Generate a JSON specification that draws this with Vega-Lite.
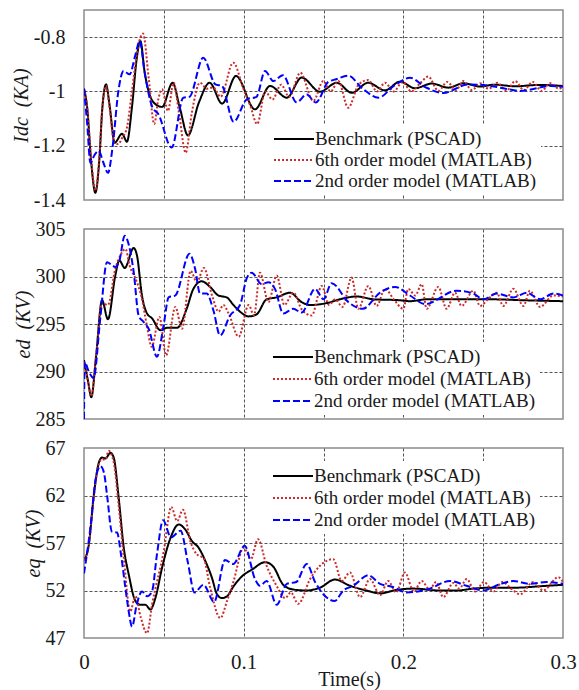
{
  "$schema": "https://vega.github.io/schema/vega-lite/v6.json",
  "background": "white",
  "padding": {"left": 10, "top": 9, "right": 16, "bottom": 2},
  "autosize": {"type": "pad"},
  "bounds": "flush",
  "spacing": 29,
  "config": {
    "font": "Liberation Serif",
    "view": {"stroke": "#8c8c8c", "strokeWidth": 1.5},
    "line": {"strokeWidth": 2, "strokeCap": "butt"},
    "axis": {"domain": false, "ticks": false, "labelFont": "Liberation Serif", "labelFontSize": 20, "labelColor": "#1a1a1a", "gridColor": "#555555", "gridDash": [3, 2], "gridWidth": 1, "titleFont": "Liberation Serif", "titleFontWeight": "normal", "titleColor": "#1a1a1a"},
    "legend": {"orient": "none", "title": null, "labelFont": "Liberation Serif", "labelFontSize": 19, "labelColor": "#1a1a1a", "symbolType": "M-1,0H3", "symbolSize": 400, "symbolStrokeWidth": 2, "symbolOffset": 19, "labelOffset": 20, "padding": 4, "fillColor": "white", "labelLimit": 400}
  },
  "resolve": {"scale": {"color": "independent", "strokeDash": "independent"}, "legend": {"color": "independent", "strokeDash": "independent"}},
  "datasets": {
    "idc": [
      {"t":0,"v":-0.99,"s":"Benchmark (PSCAD)"},{"t":0.002,"v":-1.06,"s":"Benchmark (PSCAD)"},{"t":0.0045,"v":-1.26,"s":"Benchmark (PSCAD)"},{"t":0.0071,"v":-1.373,"s":"Benchmark (PSCAD)"},{"t":0.0095,"v":-1.26,"s":"Benchmark (PSCAD)"},{"t":0.0115,"v":-1.06,"s":"Benchmark (PSCAD)"},{"t":0.0138,"v":-0.974,"s":"Benchmark (PSCAD)"},{"t":0.016,"v":-1.05,"s":"Benchmark (PSCAD)"},{"t":0.0192,"v":-1.189,"s":"Benchmark (PSCAD)"},{"t":0.0238,"v":-1.156,"s":"Benchmark (PSCAD)"},{"t":0.0269,"v":-1.185,"s":"Benchmark (PSCAD)"},{"t":0.03,"v":-1.06,"s":"Benchmark (PSCAD)"},{"t":0.033,"v":-0.88,"s":"Benchmark (PSCAD)"},{"t":0.0353,"v":-0.814,"s":"Benchmark (PSCAD)"},{"t":0.038,"v":-0.93,"s":"Benchmark (PSCAD)"},{"t":0.0405,"v":-1.0,"s":"Benchmark (PSCAD)"},{"t":0.0435,"v":-1.04,"s":"Benchmark (PSCAD)"},{"t":0.0489,"v":-1.057,"s":"Benchmark (PSCAD)"},{"t":0.0555,"v":-0.968,"s":"Benchmark (PSCAD)"},{"t":0.06,"v":-1.06,"s":"Benchmark (PSCAD)"},{"t":0.0651,"v":-1.162,"s":"Benchmark (PSCAD)"},{"t":0.072,"v":-1.04,"s":"Benchmark (PSCAD)"},{"t":0.0787,"v":-0.968,"s":"Benchmark (PSCAD)"},{"t":0.0865,"v":-1.045,"s":"Benchmark (PSCAD)"},{"t":0.0952,"v":-0.943,"s":"Benchmark (PSCAD)"},{"t":0.1071,"v":-1.066,"s":"Benchmark (PSCAD)"},{"t":0.1165,"v":-0.98,"s":"Benchmark (PSCAD)"},{"t":0.127,"v":-1.023,"s":"Benchmark (PSCAD)"},{"t":0.1363,"v":-0.949,"s":"Benchmark (PSCAD)"},{"t":0.1478,"v":-1.001,"s":"Benchmark (PSCAD)"},{"t":0.1583,"v":-0.968,"s":"Benchmark (PSCAD)"},{"t":0.1677,"v":-1.005,"s":"Benchmark (PSCAD)"},{"t":0.178,"v":-0.968,"s":"Benchmark (PSCAD)"},{"t":0.1885,"v":-0.996,"s":"Benchmark (PSCAD)"},{"t":0.1979,"v":-0.964,"s":"Benchmark (PSCAD)"},{"t":0.2073,"v":-0.988,"s":"Benchmark (PSCAD)"},{"t":0.2178,"v":-0.971,"s":"Benchmark (PSCAD)"},{"t":0.2282,"v":-0.986,"s":"Benchmark (PSCAD)"},{"t":0.2376,"v":-0.97,"s":"Benchmark (PSCAD)"},{"t":0.248,"v":-0.982,"s":"Benchmark (PSCAD)"},{"t":0.257,"v":-0.975,"s":"Benchmark (PSCAD)"},{"t":0.27,"v":-0.981,"s":"Benchmark (PSCAD)"},{"t":0.285,"v":-0.976,"s":"Benchmark (PSCAD)"},{"t":0.3,"v":-0.98,"s":"Benchmark (PSCAD)"},
      {"t":0,"v":-0.99,"s":"6th order model (MATLAB)"},{"t":0.002,"v":-1.06,"s":"6th order model (MATLAB)"},{"t":0.0045,"v":-1.25,"s":"6th order model (MATLAB)"},{"t":0.0072,"v":-1.365,"s":"6th order model (MATLAB)"},{"t":0.0095,"v":-1.25,"s":"6th order model (MATLAB)"},{"t":0.0115,"v":-1.06,"s":"6th order model (MATLAB)"},{"t":0.0138,"v":-0.98,"s":"6th order model (MATLAB)"},{"t":0.016,"v":-1.06,"s":"6th order model (MATLAB)"},{"t":0.019,"v":-1.19,"s":"6th order model (MATLAB)"},{"t":0.0214,"v":-1.194,"s":"6th order model (MATLAB)"},{"t":0.024,"v":-1.17,"s":"6th order model (MATLAB)"},{"t":0.027,"v":-1.13,"s":"6th order model (MATLAB)"},{"t":0.03,"v":-1.0,"s":"6th order model (MATLAB)"},{"t":0.034,"v":-0.83,"s":"6th order model (MATLAB)"},{"t":0.037,"v":-0.787,"s":"6th order model (MATLAB)"},{"t":0.0405,"v":-0.95,"s":"6th order model (MATLAB)"},{"t":0.044,"v":-1.12,"s":"6th order model (MATLAB)"},{"t":0.0465,"v":-1.03,"s":"6th order model (MATLAB)"},{"t":0.0489,"v":-0.992,"s":"6th order model (MATLAB)"},{"t":0.0526,"v":-1.072,"s":"6th order model (MATLAB)"},{"t":0.0561,"v":-0.968,"s":"6th order model (MATLAB)"},{"t":0.0595,"v":-1.08,"s":"6th order model (MATLAB)"},{"t":0.0637,"v":-1.226,"s":"6th order model (MATLAB)"},{"t":0.0675,"v":-1.08,"s":"6th order model (MATLAB)"},{"t":0.0726,"v":-0.968,"s":"6th order model (MATLAB)"},{"t":0.077,"v":-0.99,"s":"6th order model (MATLAB)"},{"t":0.081,"v":-0.985,"s":"6th order model (MATLAB)"},{"t":0.0855,"v":-1.02,"s":"6th order model (MATLAB)"},{"t":0.0935,"v":-0.894,"s":"6th order model (MATLAB)"},{"t":0.0998,"v":-0.99,"s":"6th order model (MATLAB)"},{"t":0.104,"v":-1.05,"s":"6th order model (MATLAB)"},{"t":0.1085,"v":-1.12,"s":"6th order model (MATLAB)"},{"t":0.1135,"v":-1.0,"s":"6th order model (MATLAB)"},{"t":0.118,"v":-1.03,"s":"6th order model (MATLAB)"},{"t":0.1235,"v":-0.975,"s":"6th order model (MATLAB)"},{"t":0.1285,"v":-1.02,"s":"6th order model (MATLAB)"},{"t":0.1355,"v":-0.931,"s":"6th order model (MATLAB)"},{"t":0.1436,"v":-1.035,"s":"6th order model (MATLAB)"},{"t":0.1499,"v":-0.962,"s":"6th order model (MATLAB)"},{"t":0.1545,"v":-1.0,"s":"6th order model (MATLAB)"},{"t":0.1593,"v":-0.962,"s":"6th order model (MATLAB)"},{"t":0.1655,"v":-1.06,"s":"6th order model (MATLAB)"},{"t":0.172,"v":-0.975,"s":"6th order model (MATLAB)"},{"t":0.178,"v":-0.958,"s":"6th order model (MATLAB)"},{"t":0.1835,"v":-1.0,"s":"6th order model (MATLAB)"},{"t":0.1885,"v":-0.968,"s":"6th order model (MATLAB)"},{"t":0.194,"v":-1.0,"s":"6th order model (MATLAB)"},{"t":0.1995,"v":-0.965,"s":"6th order model (MATLAB)"},{"t":0.205,"v":-1.0,"s":"6th order model (MATLAB)"},{"t":0.2105,"v":-0.97,"s":"6th order model (MATLAB)"},{"t":0.2156,"v":-0.945,"s":"6th order model (MATLAB)"},{"t":0.2219,"v":-0.998,"s":"6th order model (MATLAB)"},{"t":0.2275,"v":-0.965,"s":"6th order model (MATLAB)"},{"t":0.233,"v":-0.995,"s":"6th order model (MATLAB)"},{"t":0.2375,"v":-0.962,"s":"6th order model (MATLAB)"},{"t":0.243,"v":-0.995,"s":"6th order model (MATLAB)"},{"t":0.248,"v":-0.97,"s":"6th order model (MATLAB)"},{"t":0.2535,"v":-0.99,"s":"6th order model (MATLAB)"},{"t":0.259,"v":-0.968,"s":"6th order model (MATLAB)"},{"t":0.2645,"v":-0.998,"s":"6th order model (MATLAB)"},{"t":0.27,"v":-0.962,"s":"6th order model (MATLAB)"},{"t":0.2755,"v":-0.995,"s":"6th order model (MATLAB)"},{"t":0.281,"v":-0.965,"s":"6th order model (MATLAB)"},{"t":0.2865,"v":-0.998,"s":"6th order model (MATLAB)"},{"t":0.292,"v":-0.97,"s":"6th order model (MATLAB)"},{"t":0.2975,"v":-0.99,"s":"6th order model (MATLAB)"},{"t":0.3,"v":-0.978,"s":"6th order model (MATLAB)"},
      {"t":0,"v":-0.99,"s":"2nd order model (MATLAB)"},{"t":0.002,"v":-1.12,"s":"2nd order model (MATLAB)"},{"t":0.004,"v":-1.263,"s":"2nd order model (MATLAB)"},{"t":0.0065,"v":-1.235,"s":"2nd order model (MATLAB)"},{"t":0.0092,"v":-1.219,"s":"2nd order model (MATLAB)"},{"t":0.012,"v":-1.26,"s":"2nd order model (MATLAB)"},{"t":0.015,"v":-1.3,"s":"2nd order model (MATLAB)"},{"t":0.018,"v":-1.2,"s":"2nd order model (MATLAB)"},{"t":0.0215,"v":-1.0,"s":"2nd order model (MATLAB)"},{"t":0.0248,"v":-0.925,"s":"2nd order model (MATLAB)"},{"t":0.0286,"v":-0.937,"s":"2nd order model (MATLAB)"},{"t":0.032,"v":-0.87,"s":"2nd order model (MATLAB)"},{"t":0.0349,"v":-0.814,"s":"2nd order model (MATLAB)"},{"t":0.038,"v":-0.93,"s":"2nd order model (MATLAB)"},{"t":0.0426,"v":-1.055,"s":"2nd order model (MATLAB)"},{"t":0.0466,"v":-1.084,"s":"2nd order model (MATLAB)"},{"t":0.0549,"v":-1.207,"s":"2nd order model (MATLAB)"},{"t":0.0622,"v":-1.023,"s":"2nd order model (MATLAB)"},{"t":0.066,"v":-1.02,"s":"2nd order model (MATLAB)"},{"t":0.0747,"v":-0.876,"s":"2nd order model (MATLAB)"},{"t":0.0823,"v":-0.974,"s":"2nd order model (MATLAB)"},{"t":0.0864,"v":-0.98,"s":"2nd order model (MATLAB)"},{"t":0.0937,"v":-1.112,"s":"2nd order model (MATLAB)"},{"t":0.102,"v":-1.029,"s":"2nd order model (MATLAB)"},{"t":0.108,"v":-1.02,"s":"2nd order model (MATLAB)"},{"t":0.1134,"v":-0.925,"s":"2nd order model (MATLAB)"},{"t":0.1186,"v":-0.962,"s":"2nd order model (MATLAB)"},{"t":0.1245,"v":-0.94,"s":"2nd order model (MATLAB)"},{"t":0.1332,"v":-1.04,"s":"2nd order model (MATLAB)"},{"t":0.1395,"v":-1.011,"s":"2nd order model (MATLAB)"},{"t":0.1452,"v":-1.041,"s":"2nd order model (MATLAB)"},{"t":0.153,"v":-0.965,"s":"2nd order model (MATLAB)"},{"t":0.158,"v":-0.955,"s":"2nd order model (MATLAB)"},{"t":0.1655,"v":-0.942,"s":"2nd order model (MATLAB)"},{"t":0.1745,"v":-0.99,"s":"2nd order model (MATLAB)"},{"t":0.1845,"v":-1.023,"s":"2nd order model (MATLAB)"},{"t":0.194,"v":-0.98,"s":"2nd order model (MATLAB)"},{"t":0.2042,"v":-0.95,"s":"2nd order model (MATLAB)"},{"t":0.214,"v":-0.985,"s":"2nd order model (MATLAB)"},{"t":0.225,"v":-1.006,"s":"2nd order model (MATLAB)"},{"t":0.2405,"v":-0.974,"s":"2nd order model (MATLAB)"},{"t":0.255,"v":-0.98,"s":"2nd order model (MATLAB)"},{"t":0.264,"v":-0.99,"s":"2nd order model (MATLAB)"},{"t":0.273,"v":-0.998,"s":"2nd order model (MATLAB)"},{"t":0.2925,"v":-0.98,"s":"2nd order model (MATLAB)"},{"t":0.3,"v":-0.983,"s":"2nd order model (MATLAB)"}
    ],
    "ed": [
      {"t":0,"v":291.2,"s":"Benchmark (PSCAD)"},{"t":0.0025,"v":289.0,"s":"Benchmark (PSCAD)"},{"t":0.0046,"v":287.3,"s":"Benchmark (PSCAD)"},{"t":0.0075,"v":291.5,"s":"Benchmark (PSCAD)"},{"t":0.0113,"v":297.5,"s":"Benchmark (PSCAD)"},{"t":0.015,"v":295.5,"s":"Benchmark (PSCAD)"},{"t":0.0196,"v":300.1,"s":"Benchmark (PSCAD)"},{"t":0.0221,"v":301.7,"s":"Benchmark (PSCAD)"},{"t":0.0255,"v":300.9,"s":"Benchmark (PSCAD)"},{"t":0.0311,"v":303.0,"s":"Benchmark (PSCAD)"},{"t":0.0332,"v":302.2,"s":"Benchmark (PSCAD)"},{"t":0.0363,"v":298.0,"s":"Benchmark (PSCAD)"},{"t":0.0395,"v":296.1,"s":"Benchmark (PSCAD)"},{"t":0.0426,"v":295.6,"s":"Benchmark (PSCAD)"},{"t":0.0478,"v":294.35,"s":"Benchmark (PSCAD)"},{"t":0.052,"v":294.6,"s":"Benchmark (PSCAD)"},{"t":0.0583,"v":294.6,"s":"Benchmark (PSCAD)"},{"t":0.0643,"v":296.6,"s":"Benchmark (PSCAD)"},{"t":0.0685,"v":298.7,"s":"Benchmark (PSCAD)"},{"t":0.0737,"v":299.5,"s":"Benchmark (PSCAD)"},{"t":0.079,"v":298.9,"s":"Benchmark (PSCAD)"},{"t":0.0842,"v":298.0,"s":"Benchmark (PSCAD)"},{"t":0.0894,"v":297.8,"s":"Benchmark (PSCAD)"},{"t":0.0936,"v":297.0,"s":"Benchmark (PSCAD)"},{"t":0.0977,"v":296.3,"s":"Benchmark (PSCAD)"},{"t":0.103,"v":295.8,"s":"Benchmark (PSCAD)"},{"t":0.108,"v":296.0,"s":"Benchmark (PSCAD)"},{"t":0.1144,"v":297.6,"s":"Benchmark (PSCAD)"},{"t":0.1206,"v":297.8,"s":"Benchmark (PSCAD)"},{"t":0.129,"v":298.3,"s":"Benchmark (PSCAD)"},{"t":0.1363,"v":297.3,"s":"Benchmark (PSCAD)"},{"t":0.1416,"v":297.0,"s":"Benchmark (PSCAD)"},{"t":0.152,"v":297.2,"s":"Benchmark (PSCAD)"},{"t":0.1603,"v":297.6,"s":"Benchmark (PSCAD)"},{"t":0.1708,"v":297.9,"s":"Benchmark (PSCAD)"},{"t":0.1812,"v":297.6,"s":"Benchmark (PSCAD)"},{"t":0.1979,"v":297.5,"s":"Benchmark (PSCAD)"},{"t":0.2042,"v":297.4,"s":"Benchmark (PSCAD)"},{"t":0.2146,"v":297.6,"s":"Benchmark (PSCAD)"},{"t":0.2334,"v":297.6,"s":"Benchmark (PSCAD)"},{"t":0.2543,"v":297.6,"s":"Benchmark (PSCAD)"},{"t":0.2752,"v":297.5,"s":"Benchmark (PSCAD)"},{"t":0.3,"v":297.4,"s":"Benchmark (PSCAD)"},
      {"t":0,"v":291.0,"s":"6th order model (MATLAB)"},{"t":0.0025,"v":289.0,"s":"6th order model (MATLAB)"},{"t":0.0046,"v":287.4,"s":"6th order model (MATLAB)"},{"t":0.0075,"v":291.5,"s":"6th order model (MATLAB)"},{"t":0.0113,"v":297.2,"s":"6th order model (MATLAB)"},{"t":0.015,"v":297.0,"s":"6th order model (MATLAB)"},{"t":0.0196,"v":300.8,"s":"6th order model (MATLAB)"},{"t":0.023,"v":302.3,"s":"6th order model (MATLAB)"},{"t":0.026,"v":302.9,"s":"6th order model (MATLAB)"},{"t":0.0285,"v":301.2,"s":"6th order model (MATLAB)"},{"t":0.0327,"v":299.6,"s":"6th order model (MATLAB)"},{"t":0.0361,"v":297.8,"s":"6th order model (MATLAB)"},{"t":0.0393,"v":294.9,"s":"6th order model (MATLAB)"},{"t":0.0424,"v":292.6,"s":"6th order model (MATLAB)"},{"t":0.0472,"v":295.75,"s":"6th order model (MATLAB)"},{"t":0.0514,"v":291.7,"s":"6th order model (MATLAB)"},{"t":0.0572,"v":296.8,"s":"6th order model (MATLAB)"},{"t":0.0614,"v":294.5,"s":"6th order model (MATLAB)"},{"t":0.0668,"v":300.6,"s":"6th order model (MATLAB)"},{"t":0.0706,"v":299.4,"s":"6th order model (MATLAB)"},{"t":0.0751,"v":300.9,"s":"6th order model (MATLAB)"},{"t":0.0802,"v":298.0,"s":"6th order model (MATLAB)"},{"t":0.0843,"v":296.3,"s":"6th order model (MATLAB)"},{"t":0.0873,"v":297.0,"s":"6th order model (MATLAB)"},{"t":0.0906,"v":296.1,"s":"6th order model (MATLAB)"},{"t":0.0969,"v":293.66,"s":"6th order model (MATLAB)"},{"t":0.1031,"v":297.0,"s":"6th order model (MATLAB)"},{"t":0.1065,"v":295.9,"s":"6th order model (MATLAB)"},{"t":0.1102,"v":300.4,"s":"6th order model (MATLAB)"},{"t":0.1155,"v":297.3,"s":"6th order model (MATLAB)"},{"t":0.1207,"v":300.1,"s":"6th order model (MATLAB)"},{"t":0.1255,"v":297.0,"s":"6th order model (MATLAB)"},{"t":0.1311,"v":298.3,"s":"6th order model (MATLAB)"},{"t":0.1365,"v":296.5,"s":"6th order model (MATLAB)"},{"t":0.1426,"v":295.9,"s":"6th order model (MATLAB)"},{"t":0.1489,"v":299.0,"s":"6th order model (MATLAB)"},{"t":0.1535,"v":297.0,"s":"6th order model (MATLAB)"},{"t":0.1572,"v":297.6,"s":"6th order model (MATLAB)"},{"t":0.162,"v":296.8,"s":"6th order model (MATLAB)"},{"t":0.1676,"v":299.9,"s":"6th order model (MATLAB)"},{"t":0.1718,"v":296.6,"s":"6th order model (MATLAB)"},{"t":0.1781,"v":299.0,"s":"6th order model (MATLAB)"},{"t":0.1833,"v":296.9,"s":"6th order model (MATLAB)"},{"t":0.1885,"v":298.7,"s":"6th order model (MATLAB)"},{"t":0.194,"v":297.6,"s":"6th order model (MATLAB)"},{"t":0.2,"v":296.6,"s":"6th order model (MATLAB)"},{"t":0.2031,"v":298.7,"s":"6th order model (MATLAB)"},{"t":0.2075,"v":298.0,"s":"6th order model (MATLAB)"},{"t":0.2115,"v":299.2,"s":"6th order model (MATLAB)"},{"t":0.2146,"v":296.6,"s":"6th order model (MATLAB)"},{"t":0.2219,"v":298.9,"s":"6th order model (MATLAB)"},{"t":0.2271,"v":296.6,"s":"6th order model (MATLAB)"},{"t":0.2324,"v":298.3,"s":"6th order model (MATLAB)"},{"t":0.2365,"v":296.9,"s":"6th order model (MATLAB)"},{"t":0.2439,"v":298.5,"s":"6th order model (MATLAB)"},{"t":0.248,"v":296.9,"s":"6th order model (MATLAB)"},{"t":0.2535,"v":297.7,"s":"6th order model (MATLAB)"},{"t":0.2585,"v":298.3,"s":"6th order model (MATLAB)"},{"t":0.2626,"v":296.9,"s":"6th order model (MATLAB)"},{"t":0.2689,"v":298.7,"s":"6th order model (MATLAB)"},{"t":0.2752,"v":296.9,"s":"6th order model (MATLAB)"},{"t":0.2793,"v":298.5,"s":"6th order model (MATLAB)"},{"t":0.2856,"v":296.8,"s":"6th order model (MATLAB)"},{"t":0.294,"v":298.0,"s":"6th order model (MATLAB)"},{"t":0.3,"v":297.9,"s":"6th order model (MATLAB)"},
      {"t":0,"v":285.0,"s":"2nd order model (MATLAB)"},{"t":0.0004,"v":291.0,"s":"2nd order model (MATLAB)"},{"t":0.003,"v":290.0,"s":"2nd order model (MATLAB)"},{"t":0.006,"v":289.3,"s":"2nd order model (MATLAB)"},{"t":0.0102,"v":295.6,"s":"2nd order model (MATLAB)"},{"t":0.0144,"v":301.5,"s":"2nd order model (MATLAB)"},{"t":0.0175,"v":301.2,"s":"2nd order model (MATLAB)"},{"t":0.0196,"v":301.0,"s":"2nd order model (MATLAB)"},{"t":0.0221,"v":301.6,"s":"2nd order model (MATLAB)"},{"t":0.0255,"v":304.3,"s":"2nd order model (MATLAB)"},{"t":0.027,"v":303.9,"s":"2nd order model (MATLAB)"},{"t":0.0311,"v":300.5,"s":"2nd order model (MATLAB)"},{"t":0.0342,"v":295.9,"s":"2nd order model (MATLAB)"},{"t":0.0374,"v":295.2,"s":"2nd order model (MATLAB)"},{"t":0.0405,"v":294.5,"s":"2nd order model (MATLAB)"},{"t":0.0457,"v":291.56,"s":"2nd order model (MATLAB)"},{"t":0.0499,"v":294.9,"s":"2nd order model (MATLAB)"},{"t":0.053,"v":297.8,"s":"2nd order model (MATLAB)"},{"t":0.0572,"v":298.0,"s":"2nd order model (MATLAB)"},{"t":0.0661,"v":302.4,"s":"2nd order model (MATLAB)"},{"t":0.0696,"v":300.8,"s":"2nd order model (MATLAB)"},{"t":0.0727,"v":298.2,"s":"2nd order model (MATLAB)"},{"t":0.0769,"v":298.2,"s":"2nd order model (MATLAB)"},{"t":0.0811,"v":296.4,"s":"2nd order model (MATLAB)"},{"t":0.0852,"v":293.8,"s":"2nd order model (MATLAB)"},{"t":0.0915,"v":295.9,"s":"2nd order model (MATLAB)"},{"t":0.0977,"v":297.0,"s":"2nd order model (MATLAB)"},{"t":0.1019,"v":299.8,"s":"2nd order model (MATLAB)"},{"t":0.105,"v":300.4,"s":"2nd order model (MATLAB)"},{"t":0.1113,"v":299.2,"s":"2nd order model (MATLAB)"},{"t":0.1155,"v":299.4,"s":"2nd order model (MATLAB)"},{"t":0.1196,"v":298.7,"s":"2nd order model (MATLAB)"},{"t":0.1248,"v":296.1,"s":"2nd order model (MATLAB)"},{"t":0.1311,"v":296.6,"s":"2nd order model (MATLAB)"},{"t":0.1363,"v":296.2,"s":"2nd order model (MATLAB)"},{"t":0.1447,"v":298.7,"s":"2nd order model (MATLAB)"},{"t":0.15,"v":297.6,"s":"2nd order model (MATLAB)"},{"t":0.1551,"v":299.3,"s":"2nd order model (MATLAB)"},{"t":0.1656,"v":297.3,"s":"2nd order model (MATLAB)"},{"t":0.1745,"v":296.6,"s":"2nd order model (MATLAB)"},{"t":0.1854,"v":298.3,"s":"2nd order model (MATLAB)"},{"t":0.1948,"v":298.9,"s":"2nd order model (MATLAB)"},{"t":0.2042,"v":298.0,"s":"2nd order model (MATLAB)"},{"t":0.2136,"v":297.1,"s":"2nd order model (MATLAB)"},{"t":0.2334,"v":298.5,"s":"2nd order model (MATLAB)"},{"t":0.2439,"v":298.2,"s":"2nd order model (MATLAB)"},{"t":0.25,"v":297.6,"s":"2nd order model (MATLAB)"},{"t":0.2585,"v":298.2,"s":"2nd order model (MATLAB)"},{"t":0.2689,"v":297.8,"s":"2nd order model (MATLAB)"},{"t":0.2773,"v":298.3,"s":"2nd order model (MATLAB)"},{"t":0.2856,"v":297.6,"s":"2nd order model (MATLAB)"},{"t":0.294,"v":298.2,"s":"2nd order model (MATLAB)"},{"t":0.3,"v":298.0,"s":"2nd order model (MATLAB)"}
    ],
    "eq": [
      {"t":0,"v":55.2,"s":"Benchmark (PSCAD)"},{"t":0.003,"v":56.8,"s":"Benchmark (PSCAD)"},{"t":0.006,"v":61.8,"s":"Benchmark (PSCAD)"},{"t":0.0092,"v":65.4,"s":"Benchmark (PSCAD)"},{"t":0.0113,"v":66.0,"s":"Benchmark (PSCAD)"},{"t":0.0135,"v":65.9,"s":"Benchmark (PSCAD)"},{"t":0.0165,"v":66.5,"s":"Benchmark (PSCAD)"},{"t":0.0186,"v":66.0,"s":"Benchmark (PSCAD)"},{"t":0.0217,"v":61.8,"s":"Benchmark (PSCAD)"},{"t":0.0249,"v":56.5,"s":"Benchmark (PSCAD)"},{"t":0.028,"v":53.7,"s":"Benchmark (PSCAD)"},{"t":0.0322,"v":50.9,"s":"Benchmark (PSCAD)"},{"t":0.0353,"v":50.5,"s":"Benchmark (PSCAD)"},{"t":0.0384,"v":50.5,"s":"Benchmark (PSCAD)"},{"t":0.0416,"v":50.0,"s":"Benchmark (PSCAD)"},{"t":0.0447,"v":51.2,"s":"Benchmark (PSCAD)"},{"t":0.0489,"v":54.4,"s":"Benchmark (PSCAD)"},{"t":0.0541,"v":57.5,"s":"Benchmark (PSCAD)"},{"t":0.0593,"v":58.95,"s":"Benchmark (PSCAD)"},{"t":0.0635,"v":58.4,"s":"Benchmark (PSCAD)"},{"t":0.0676,"v":57.2,"s":"Benchmark (PSCAD)"},{"t":0.0718,"v":56.5,"s":"Benchmark (PSCAD)"},{"t":0.076,"v":55.1,"s":"Benchmark (PSCAD)"},{"t":0.0802,"v":53.3,"s":"Benchmark (PSCAD)"},{"t":0.0833,"v":51.6,"s":"Benchmark (PSCAD)"},{"t":0.0864,"v":51.2,"s":"Benchmark (PSCAD)"},{"t":0.0896,"v":51.4,"s":"Benchmark (PSCAD)"},{"t":0.0937,"v":52.45,"s":"Benchmark (PSCAD)"},{"t":0.099,"v":53.5,"s":"Benchmark (PSCAD)"},{"t":0.1052,"v":54.2,"s":"Benchmark (PSCAD)"},{"t":0.1134,"v":54.98,"s":"Benchmark (PSCAD)"},{"t":0.1186,"v":54.5,"s":"Benchmark (PSCAD)"},{"t":0.1248,"v":52.6,"s":"Benchmark (PSCAD)"},{"t":0.1311,"v":52.1,"s":"Benchmark (PSCAD)"},{"t":0.1395,"v":52.0,"s":"Benchmark (PSCAD)"},{"t":0.1478,"v":52.3,"s":"Benchmark (PSCAD)"},{"t":0.1572,"v":53.15,"s":"Benchmark (PSCAD)"},{"t":0.1666,"v":52.5,"s":"Benchmark (PSCAD)"},{"t":0.177,"v":52.0,"s":"Benchmark (PSCAD)"},{"t":0.1854,"v":51.7,"s":"Benchmark (PSCAD)"},{"t":0.1958,"v":52.06,"s":"Benchmark (PSCAD)"},{"t":0.2063,"v":52.2,"s":"Benchmark (PSCAD)"},{"t":0.223,"v":52.0,"s":"Benchmark (PSCAD)"},{"t":0.2334,"v":52.0,"s":"Benchmark (PSCAD)"},{"t":0.2439,"v":52.2,"s":"Benchmark (PSCAD)"},{"t":0.2564,"v":52.3,"s":"Benchmark (PSCAD)"},{"t":0.271,"v":52.3,"s":"Benchmark (PSCAD)"},{"t":0.2856,"v":52.45,"s":"Benchmark (PSCAD)"},{"t":0.3,"v":52.6,"s":"Benchmark (PSCAD)"},
      {"t":0,"v":55.2,"s":"6th order model (MATLAB)"},{"t":0.003,"v":56.8,"s":"6th order model (MATLAB)"},{"t":0.006,"v":61.6,"s":"6th order model (MATLAB)"},{"t":0.0092,"v":65.3,"s":"6th order model (MATLAB)"},{"t":0.0113,"v":65.8,"s":"6th order model (MATLAB)"},{"t":0.0135,"v":65.8,"s":"6th order model (MATLAB)"},{"t":0.0154,"v":66.7,"s":"6th order model (MATLAB)"},{"t":0.0186,"v":65.5,"s":"6th order model (MATLAB)"},{"t":0.0217,"v":61.0,"s":"6th order model (MATLAB)"},{"t":0.0249,"v":55.5,"s":"6th order model (MATLAB)"},{"t":0.029,"v":49.8,"s":"6th order model (MATLAB)"},{"t":0.0322,"v":51.4,"s":"6th order model (MATLAB)"},{"t":0.0355,"v":49.2,"s":"6th order model (MATLAB)"},{"t":0.0395,"v":47.5,"s":"6th order model (MATLAB)"},{"t":0.0426,"v":50.5,"s":"6th order model (MATLAB)"},{"t":0.0499,"v":56.1,"s":"6th order model (MATLAB)"},{"t":0.0547,"v":60.8,"s":"6th order model (MATLAB)"},{"t":0.0583,"v":59.3,"s":"6th order model (MATLAB)"},{"t":0.062,"v":60.5,"s":"6th order model (MATLAB)"},{"t":0.0666,"v":57.2,"s":"6th order model (MATLAB)"},{"t":0.0707,"v":55.8,"s":"6th order model (MATLAB)"},{"t":0.0749,"v":55.4,"s":"6th order model (MATLAB)"},{"t":0.079,"v":52.3,"s":"6th order model (MATLAB)"},{"t":0.0854,"v":49.1,"s":"6th order model (MATLAB)"},{"t":0.0896,"v":50.9,"s":"6th order model (MATLAB)"},{"t":0.0937,"v":53.0,"s":"6th order model (MATLAB)"},{"t":0.1,"v":56.5,"s":"6th order model (MATLAB)"},{"t":0.1045,"v":55.3,"s":"6th order model (MATLAB)"},{"t":0.109,"v":57.4,"s":"6th order model (MATLAB)"},{"t":0.1144,"v":54.6,"s":"6th order model (MATLAB)"},{"t":0.1206,"v":52.5,"s":"6th order model (MATLAB)"},{"t":0.126,"v":51.2,"s":"6th order model (MATLAB)"},{"t":0.1295,"v":51.8,"s":"6th order model (MATLAB)"},{"t":0.1342,"v":50.6,"s":"6th order model (MATLAB)"},{"t":0.1416,"v":53.2,"s":"6th order model (MATLAB)"},{"t":0.1478,"v":54.6,"s":"6th order model (MATLAB)"},{"t":0.1561,"v":55.3,"s":"6th order model (MATLAB)"},{"t":0.1614,"v":53.0,"s":"6th order model (MATLAB)"},{"t":0.1666,"v":53.9,"s":"6th order model (MATLAB)"},{"t":0.1729,"v":51.3,"s":"6th order model (MATLAB)"},{"t":0.1791,"v":53.2,"s":"6th order model (MATLAB)"},{"t":0.1854,"v":51.5,"s":"6th order model (MATLAB)"},{"t":0.1905,"v":53.0,"s":"6th order model (MATLAB)"},{"t":0.1955,"v":51.8,"s":"6th order model (MATLAB)"},{"t":0.201,"v":53.9,"s":"6th order model (MATLAB)"},{"t":0.2065,"v":51.9,"s":"6th order model (MATLAB)"},{"t":0.2115,"v":53.0,"s":"6th order model (MATLAB)"},{"t":0.2165,"v":52.1,"s":"6th order model (MATLAB)"},{"t":0.2205,"v":52.9,"s":"6th order model (MATLAB)"},{"t":0.225,"v":51.3,"s":"6th order model (MATLAB)"},{"t":0.2313,"v":52.8,"s":"6th order model (MATLAB)"},{"t":0.235,"v":52.2,"s":"6th order model (MATLAB)"},{"t":0.2397,"v":53.2,"s":"6th order model (MATLAB)"},{"t":0.245,"v":51.9,"s":"6th order model (MATLAB)"},{"t":0.2505,"v":52.9,"s":"6th order model (MATLAB)"},{"t":0.2565,"v":51.9,"s":"6th order model (MATLAB)"},{"t":0.262,"v":52.9,"s":"6th order model (MATLAB)"},{"t":0.2675,"v":52.2,"s":"6th order model (MATLAB)"},{"t":0.2731,"v":51.6,"s":"6th order model (MATLAB)"},{"t":0.2814,"v":52.9,"s":"6th order model (MATLAB)"},{"t":0.2875,"v":52.0,"s":"6th order model (MATLAB)"},{"t":0.2971,"v":53.4,"s":"6th order model (MATLAB)"},{"t":0.3,"v":52.9,"s":"6th order model (MATLAB)"},
      {"t":0,"v":53.8,"s":"2nd order model (MATLAB)"},{"t":0.004,"v":58.6,"s":"2nd order model (MATLAB)"},{"t":0.0071,"v":63.5,"s":"2nd order model (MATLAB)"},{"t":0.0102,"v":65.1,"s":"2nd order model (MATLAB)"},{"t":0.0125,"v":64.4,"s":"2nd order model (MATLAB)"},{"t":0.0144,"v":62.1,"s":"2nd order model (MATLAB)"},{"t":0.0175,"v":58.2,"s":"2nd order model (MATLAB)"},{"t":0.0207,"v":58.1,"s":"2nd order model (MATLAB)"},{"t":0.023,"v":56.0,"s":"2nd order model (MATLAB)"},{"t":0.0259,"v":52.3,"s":"2nd order model (MATLAB)"},{"t":0.028,"v":49.8,"s":"2nd order model (MATLAB)"},{"t":0.0301,"v":48.2,"s":"2nd order model (MATLAB)"},{"t":0.033,"v":50.5,"s":"2nd order model (MATLAB)"},{"t":0.0363,"v":51.9,"s":"2nd order model (MATLAB)"},{"t":0.0395,"v":51.4,"s":"2nd order model (MATLAB)"},{"t":0.0426,"v":51.9,"s":"2nd order model (MATLAB)"},{"t":0.0457,"v":55.8,"s":"2nd order model (MATLAB)"},{"t":0.0495,"v":59.4,"s":"2nd order model (MATLAB)"},{"t":0.0545,"v":57.6,"s":"2nd order model (MATLAB)"},{"t":0.0605,"v":58.3,"s":"2nd order model (MATLAB)"},{"t":0.065,"v":55.0,"s":"2nd order model (MATLAB)"},{"t":0.0692,"v":51.8,"s":"2nd order model (MATLAB)"},{"t":0.0748,"v":52.6,"s":"2nd order model (MATLAB)"},{"t":0.0815,"v":50.8,"s":"2nd order model (MATLAB)"},{"t":0.0883,"v":55.2,"s":"2nd order model (MATLAB)"},{"t":0.0935,"v":54.8,"s":"2nd order model (MATLAB)"},{"t":0.1006,"v":56.7,"s":"2nd order model (MATLAB)"},{"t":0.1071,"v":53.2,"s":"2nd order model (MATLAB)"},{"t":0.1102,"v":52.5,"s":"2nd order model (MATLAB)"},{"t":0.1144,"v":53.0,"s":"2nd order model (MATLAB)"},{"t":0.1207,"v":50.5,"s":"2nd order model (MATLAB)"},{"t":0.127,"v":52.7,"s":"2nd order model (MATLAB)"},{"t":0.133,"v":52.9,"s":"2nd order model (MATLAB)"},{"t":0.1395,"v":54.8,"s":"2nd order model (MATLAB)"},{"t":0.1447,"v":52.9,"s":"2nd order model (MATLAB)"},{"t":0.157,"v":50.9,"s":"2nd order model (MATLAB)"},{"t":0.1624,"v":52.0,"s":"2nd order model (MATLAB)"},{"t":0.1687,"v":52.5,"s":"2nd order model (MATLAB)"},{"t":0.1781,"v":53.6,"s":"2nd order model (MATLAB)"},{"t":0.1854,"v":52.7,"s":"2nd order model (MATLAB)"},{"t":0.193,"v":52.4,"s":"2nd order model (MATLAB)"},{"t":0.2021,"v":51.8,"s":"2nd order model (MATLAB)"},{"t":0.215,"v":52.1,"s":"2nd order model (MATLAB)"},{"t":0.2292,"v":53.0,"s":"2nd order model (MATLAB)"},{"t":0.2395,"v":52.5,"s":"2nd order model (MATLAB)"},{"t":0.25,"v":52.0,"s":"2nd order model (MATLAB)"},{"t":0.2595,"v":52.6,"s":"2nd order model (MATLAB)"},{"t":0.2689,"v":53.0,"s":"2nd order model (MATLAB)"},{"t":0.2793,"v":52.7,"s":"2nd order model (MATLAB)"},{"t":0.2895,"v":52.9,"s":"2nd order model (MATLAB)"},{"t":0.3,"v":52.7,"s":"2nd order model (MATLAB)"}
    ]
  },
  "vconcat": [
    {
      "width": 479, "height": 190,
      "data": {"name": "idc"},
      "mark": {"type": "line", "interpolate": "monotone", "clip": true},
      "encoding": {
        "x": {"field": "t", "type": "quantitative", "scale": {"domain": [0, 0.3], "nice": false, "zero": false},
              "axis": {"values": [0, 0.05, 0.1, 0.15, 0.2, 0.25, 0.3], "labels": false, "title": null,
                       "gridOpacity": {"condition": {"test": "datum.value == 0 || datum.value == 0.3", "value": 0}, "value": 1}}},
        "y": {"field": "v", "type": "quantitative", "scale": {"domain": [-1.4, -0.7], "nice": false, "zero": false},
              "axis": {"values": [-1.4, -1.2, -1, -0.8], "labelExpr": "datum.value < 0 ? '-' + format(-datum.value, '~g') : format(datum.value, '~g')",
                       "labelPadding": 19, "title": "Idc\u00a0\u00a0(KA)", "titleFontStyle": "italic", "titleFontSize": 20, "titlePadding": 2,
                       "gridOpacity": {"condition": {"test": "datum.value == -1.4", "value": 0}, "value": 1}}},
        "color": {"field": "s", "type": "nominal", "scale": {"domain": ["Benchmark (PSCAD)", "6th order model (MATLAB)", "2nd order model (MATLAB)"], "range": ["#000000", "#cc2b2b", "#0000ff"]},
                  "legend": {"legendX": 166, "legendY": 114, "rowPadding": 0}},
        "strokeDash": {"field": "s", "type": "nominal", "scale": {"domain": ["Benchmark (PSCAD)", "6th order model (MATLAB)", "2nd order model (MATLAB)"], "range": [[1, 0], [2, 2], [7, 3]]},
                  "legend": {"legendX": 166, "legendY": 114, "rowPadding": 0}}
      }
    },
    {
      "width": 479, "height": 190,
      "data": {"name": "ed"},
      "mark": {"type": "line", "interpolate": "monotone", "clip": true},
      "encoding": {
        "x": {"field": "t", "type": "quantitative", "scale": {"domain": [0, 0.3], "nice": false, "zero": false},
              "axis": {"values": [0, 0.05, 0.1, 0.15, 0.2, 0.25, 0.3], "labels": false, "title": null,
                       "gridOpacity": {"condition": {"test": "datum.value == 0 || datum.value == 0.3", "value": 0}, "value": 1}}},
        "y": {"field": "v", "type": "quantitative", "scale": {"domain": [285, 305], "nice": false, "zero": false},
              "axis": {"values": [285, 290, 295, 300, 305], "format": "~g",
                       "labelPadding": 19, "title": "ed\u00a0\u00a0(KV)", "titleFontStyle": "italic", "titleFontSize": 20, "titlePadding": 2,
                       "gridOpacity": {"condition": {"test": "datum.value == 285 || datum.value == 305", "value": 0}, "value": 1}}},
        "color": {"field": "s", "type": "nominal", "scale": {"domain": ["Benchmark (PSCAD)", "6th order model (MATLAB)", "2nd order model (MATLAB)"], "range": ["#000000", "#cc2b2b", "#0000ff"]},
                  "legend": {"legendX": 165, "legendY": 113, "rowPadding": 1}},
        "strokeDash": {"field": "s", "type": "nominal", "scale": {"domain": ["Benchmark (PSCAD)", "6th order model (MATLAB)", "2nd order model (MATLAB)"], "range": [[1, 0], [2, 2], [7, 3]]},
                  "legend": {"legendX": 165, "legendY": 113, "rowPadding": 1}}
      }
    },
    {
      "width": 479, "height": 190,
      "data": {"name": "eq"},
      "mark": {"type": "line", "interpolate": "monotone", "clip": true},
      "encoding": {
        "x": {"field": "t", "type": "quantitative", "scale": {"domain": [0, 0.3], "nice": false, "zero": false},
              "axis": {"values": [0, 0.05, 0.1, 0.15, 0.2, 0.25, 0.3],
                       "labelExpr": "(datum.value == 0 || datum.value == 0.1 || datum.value == 0.2 || datum.value == 0.3) ? format(datum.value, '~g') : ''",
                       "labelPadding": 13, "labelFontSize": 21, "labelFlush": false,
                       "title": "Time(s)", "titleFontSize": 20, "titleX": 265, "titleY": 31, "titleAlign": "center", "titleBaseline": "top",
                       "gridOpacity": {"condition": {"test": "datum.value == 0 || datum.value == 0.3", "value": 0}, "value": 1}}},
        "y": {"field": "v", "type": "quantitative", "scale": {"domain": [47, 67], "nice": false, "zero": false},
              "axis": {"values": [47, 52, 57, 62, 67], "format": "~g",
                       "labelPadding": 19, "title": "eq\u00a0\u00a0(KV)", "titleFontStyle": "italic", "titleFontSize": 20, "titlePadding": 2,
                       "gridOpacity": {"condition": {"test": "datum.value == 47 || datum.value == 67", "value": 0}, "value": 1}}},
        "color": {"field": "s", "type": "nominal", "scale": {"domain": ["Benchmark (PSCAD)", "6th order model (MATLAB)", "2nd order model (MATLAB)"], "range": ["#000000", "#cc2b2b", "#0000ff"]},
                  "legend": {"legendX": 165, "legendY": 13, "rowPadding": 1}},
        "strokeDash": {"field": "s", "type": "nominal", "scale": {"domain": ["Benchmark (PSCAD)", "6th order model (MATLAB)", "2nd order model (MATLAB)"], "range": [[1, 0], [2, 2], [7, 3]]},
                  "legend": {"legendX": 165, "legendY": 13, "rowPadding": 1}}
      }
    }
  ]
}
